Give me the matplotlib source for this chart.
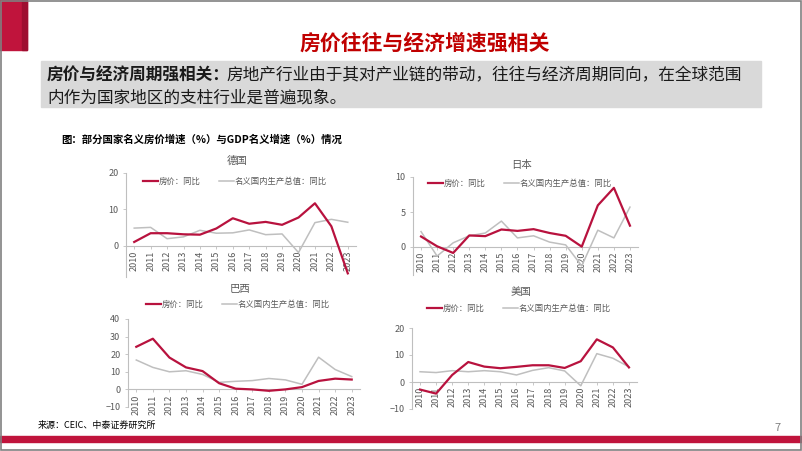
import matplotlib
matplotlib.use("Agg")
import matplotlib.pyplot as plt
from matplotlib.patches import Rectangle

plt.rcParams['font.family'] = ['Noto Sans CJK SC', 'DejaVu Sans']

years = [str(y) for y in range(2010, 2024)]

# 德国
de_house = [1.1, 3.5, 3.5, 3.2, 3.1, 4.8, 7.6, 6.1, 6.6, 5.8, 7.8, 11.7, 5.4, -7.5]
de_gdp = [4.9, 5.1, 2.0, 2.5, 4.3, 3.5, 3.6, 4.4, 3.1, 3.3, -1.8, 6.4, 7.3, 6.5]
# 日本
jp_house = [1.5, 0.1, -0.85, 1.65, 1.55, 2.5, 2.3, 2.55, 2.0, 1.6, 0.05, 5.95, 8.45, 3.05]
jp_gdp = [2.2, -1.3, 0.6, 1.6, 2.0, 3.7, 1.3, 1.6, 0.7, 0.3, -2.7, 2.4, 1.3, 5.7]
# 巴西
br_house = [24.2, 28.8, 18.1, 12.5, 10.4, 3.5, 0.4, 0.0, -0.8, 0.0, 1.3, 4.8, 6.1, 5.6]
br_gdp = [16.7, 12.5, 10.0, 10.6, 8.5, 4.0, 4.6, 5.0, 6.2, 5.4, 2.9, 18.3, 11.3, 7.3]
# 美国
us_house = [-2.8, -4.3, 2.6, 7.4, 5.7, 5.1, 5.6, 6.2, 6.2, 5.2, 7.7, 15.8, 12.8, 5.4]
us_gdp = [3.8, 3.5, 4.2, 3.8, 4.2, 3.8, 2.6, 4.3, 5.3, 4.1, -1.4, 10.5, 8.8, 5.6]

W, H = 802, 451
RED = '#B8123E'
GRAY = '#BFBFBF'
TXT = '#595959'

fig = plt.figure(figsize=(W / 100, H / 100), dpi=100)


def fx(x):
    return x / W


def fy(y):
    return 1 - y / H


# slide decoration
fig.patches.append(Rectangle((0, fy(50)), fx(27), 50 / H, transform=fig.transFigure,
                             color='#C0143C', zorder=0))
fig.patches.append(Rectangle((fx(22), fy(50)), fx(5), 50 / H, transform=fig.transFigure,
                             color='#9E0E30', zorder=0))
fig.patches.append(Rectangle((0, fy(442)), 1, 6 / H, transform=fig.transFigure,
                             color='#C0143C', zorder=0))
fig.patches.append(Rectangle((fx(1), fy(450)), 1 - 2 / W, 449 / H, transform=fig.transFigure,
                             fill=False, edgecolor='#808080', linewidth=1.2, zorder=5))
fig.patches.append(Rectangle((fx(41), fy(107)), fx(720), 46 / H, transform=fig.transFigure,
                             color='#D9D9D9', zorder=0))

fig.text(fx(425), fy(43), '房价往往与经济增速强相关', color='#C00000', fontsize=15,
         fontweight='bold', ha='center', va='center')
t1 = fig.text(fx(47), fy(76), '房价与经济周期强相关：', fontsize=12, fontweight='bold',
              ha='left', va='center', color='#1a1a1a')
fig.text(fx(226), fy(76), '房地产行业由于其对产业链的带动，往往与经济周期同向，在全球范围',
         fontsize=12, ha='left', va='center', color='#1a1a1a')
fig.text(fx(47), fy(98), '内作为国家地区的支柱行业是普遍现象。', fontsize=12,
         ha='left', va='center', color='#1a1a1a')
fig.text(fx(61), fy(140), '图：部分国家名义房价增速（%）与GDP名义增速（%）情况',
         fontsize=7.5, fontweight='bold', ha='left', va='center')
fig.text(fx(38), fy(425), '来源：CEIC、中泰证券研究所', fontsize=6.5, ha='left', va='center')
fig.text(fx(778), fy(428), '7', fontsize=8, ha='center', va='center', color='#808080')

panels = [
    ('德国', de_house, de_gdp, (126, 356, 173, 277), (-8.5, 20), [0, 10, 20], 161, 181),
    ('日本', jp_house, jp_gdp, (413, 638, 177, 275), (-4, 10), [0, 5, 10], 165, 183),
    ('巴西', br_house, br_gdp, (128, 360, 319, 407), (-10, 40), [-10, 0, 10, 20, 30, 40], 289, 304),
    ('美国', us_house, us_gdp, (412, 637, 328, 409), (-10, 20), [-10, 0, 10, 20], 292, 308),
]

for name, house, gdp, (x0, x1, y0, y1), ylim, yticks, ty, ly in panels:
    ax = fig.add_axes([fx(x0), fy(y1), (x1 - x0) / W, (y1 - y0) / H])
    ax.spines['top'].set_visible(False)
    ax.spines['right'].set_visible(False)
    ax.spines['bottom'].set_position(('data', 0))
    ax.spines['bottom'].set_color(GRAY)
    ax.spines['left'].set_color(GRAY)
    xs = list(range(len(years)))
    ax.plot(xs, gdp, color=GRAY, linewidth=1.1, label='名义国内生产总值：同比', zorder=2)
    ax.plot(xs, house, color=RED, linewidth=1.6, label='房价：同比', zorder=3)
    ax.set_xlim(-0.5, len(years) - 0.5)
    ax.set_ylim(*ylim)
    ax.set_yticks(yticks)
    ax.set_xticks(xs)
    ax.set_xticklabels(years)
    ax.tick_params(axis='both', labelsize=6.5, labelcolor=TXT, color=GRAY, length=2, width=0.6)
    ax.tick_params(axis='x', pad=1.5, labelrotation=90)
    ax.patch.set_alpha(0)
    fig.text(fx((x0 + x1) / 2 - 4), fy(ty), name, fontsize=7.5, color=TXT,
             ha='center', va='center')
    handles, labels = ax.get_legend_handles_labels()
    leg = fig.legend(handles[::-1], labels[::-1], loc='center',
                     bbox_to_anchor=(fx((x0 + x1) / 2 - 6), fy(ly)), ncol=2, frameon=False,
                     fontsize=6, handlelength=1.8, handletextpad=0.1, columnspacing=2.2,
                     borderpad=0)
    for t in leg.get_texts():
        t.set_color(TXT)

fig.savefig('out.png', dpi=100)
